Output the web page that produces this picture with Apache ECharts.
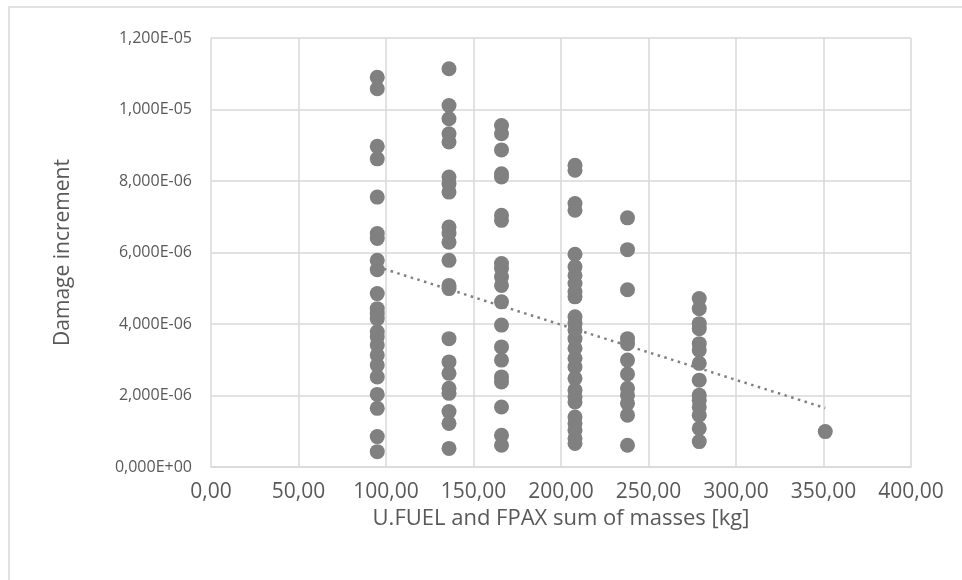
<!DOCTYPE html>
<html>
<head>
<meta charset="utf-8">
<script src="https://cdn.jsdelivr.net/npm/echarts@6/dist/echarts.min.js"></script>
<style>
  html, body { margin: 0; padding: 0; background: #fff; }
  #chart { width: 962px; height: 580px; }
</style>
</head>
<body>
<div id="chart"></div>
<script>
// mass groups [kg] and damage increments
const masses = [95, 136, 166, 208, 238, 279, 351]

const damage95 = [10.90e-6, 10.58e-6, 8.97e-6, 8.62e-6, 7.55e-6, 6.53e-6, 6.39e-6, 5.78e-6, 5.52e-6, 4.85e-6,
  4.43e-6, 4.29e-6, 4.15e-6, 3.78e-6, 3.64e-6, 3.41e-6, 3.13e-6, 2.85e-6, 2.52e-6, 2.03e-6, 1.64e-6, 0.85e-6, 0.43e-6]
const damage136 = [11.14e-6, 10.11e-6, 9.74e-6, 9.32e-6, 9.09e-6, 8.11e-6, 7.92e-6, 7.69e-6, 6.71e-6, 6.53e-6,
  6.29e-6, 5.78e-6, 5.08e-6, 4.99e-6, 3.59e-6, 2.94e-6, 2.62e-6, 2.20e-6, 2.06e-6, 1.55e-6, 1.22e-6, 0.52e-6]
const damage166 = [9.55e-6, 9.32e-6, 8.87e-6, 8.20e-6, 8.11e-6, 7.04e-6, 6.90e-6, 5.69e-6, 5.55e-6, 5.32e-6,
  5.08e-6, 4.62e-6, 3.97e-6, 3.36e-6, 2.99e-6, 2.52e-6, 2.38e-6, 1.68e-6, 0.89e-6, 0.61e-6]
const damage208 = [8.44e-6, 8.30e-6, 7.37e-6, 7.18e-6, 5.95e-6, 5.60e-6, 5.36e-6, 5.13e-6, 4.90e-6, 4.76e-6,
  4.20e-6, 4.01e-6, 3.83e-6, 3.59e-6, 3.32e-6, 3.04e-6, 2.80e-6, 2.48e-6, 2.15e-6, 1.96e-6, 1.82e-6, 1.40e-6,
  1.22e-6, 1.03e-6, 0.80e-6, 0.66e-6]
const damage238 = [6.97e-6, 6.08e-6, 4.96e-6, 3.59e-6, 3.45e-6, 2.99e-6, 2.60e-6, 2.20e-6, 2.01e-6, 1.78e-6,
  1.45e-6, 0.61e-6]
const damage279 = [4.71e-6, 4.43e-6, 4.01e-6, 3.87e-6, 3.45e-6, 3.27e-6, 2.90e-6, 2.43e-6, 2.01e-6, 1.87e-6,
  1.68e-6, 1.45e-6, 1.08e-6, 0.71e-6]
const damage351 = [0.99e-6]

const damageGroups = [damage95, damage136, damage166, damage208, damage238, damage279, damage351]

// linear trendline end points
const trendX = [95, 351]
const trendY = [5.60e-6, 1.65e-6]

const points = []
damageGroups.forEach((group, i) => {
  group.forEach((v) => points.push([masses[i], v]))
})
const trendData = trendX.map((x, i) => [x, trendY[i]])

const textColor = '#595959'
const gridColor = '#d9d9d9'
const fontFamily = '"Open Sans", "Noto Sans", sans-serif'

const formatExp = (value) => {
  if (value === 0) return '0,000E+00'
  const [mant, exp] = value.toExponential(3).split('e')
  const n = parseInt(exp, 10)
  const sign = n < 0 ? '-' : '+'
  return mant.replace('.', ',') + 'E' + sign + String(Math.abs(n)).padStart(2, '0')
}

const chart = echarts.init(document.getElementById('chart'))
chart.setOption({
  backgroundColor: '#fff',
  animation: false,
  textStyle: { fontFamily },
  graphic: [
    {
      type: 'rect',
      shape: { x: 9, y: 7, width: 970, height: 600 },
      style: { fill: 'none', stroke: gridColor, lineWidth: 1.5 },
      silent: true
    }
  ],
  grid: { left: 211, right: 51, top: 38, bottom: 113 },
  xAxis: {
    type: 'value',
    min: 0,
    max: 400,
    interval: 50,
    name: 'U.FUEL and FPAX sum of masses [kg]',
    nameLocation: 'middle',
    nameGap: 33,
    nameTextStyle: { color: textColor, fontSize: 22, fontFamily },
    axisLine: { show: true, lineStyle: { color: gridColor, width: 1.5 } },
    axisTick: { show: false },
    axisLabel: {
      color: textColor,
      fontSize: 21,
      margin: 15,
      formatter: (v) => v.toFixed(2).replace('.', ',')
    },
    splitLine: { show: true, lineStyle: { color: gridColor, width: 1.5 } }
  },
  yAxis: {
    type: 'value',
    min: 0,
    max: 1.2e-5,
    interval: 2e-6,
    name: 'Damage increment',
    nameLocation: 'middle',
    nameGap: 137,
    nameTextStyle: { color: textColor, fontSize: 21, fontFamily },
    axisLine: { show: false },
    axisTick: { show: false },
    axisLabel: {
      color: textColor,
      fontSize: 16,
      margin: 19,
      formatter: formatExp
    },
    splitLine: { show: true, lineStyle: { color: gridColor, width: 1.5 } }
  },
  series: [
    {
      name: 'Damage increment',
      type: 'scatter',
      data: points,
      symbol: 'circle',
      symbolSize: 15,
      itemStyle: { color: '#808080', opacity: 1 }
    },
    {
      name: 'Trend',
      type: 'line',
      data: trendData,
      symbol: 'none',
      z: 3,
      lineStyle: { color: '#808080', width: 2.5, type: [2.5, 4.5] }
    }
  ]
})
</script>
</body>
</html>
